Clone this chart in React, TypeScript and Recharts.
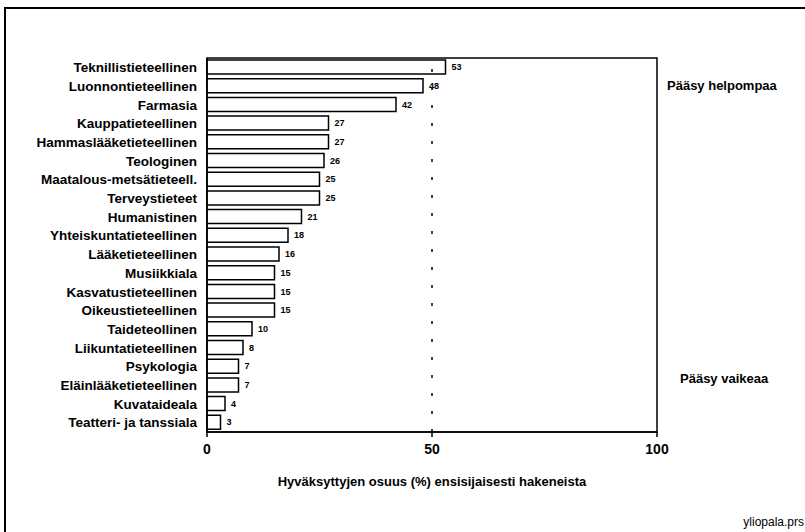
import { BarChart, Bar, XAxis, YAxis, ReferenceLine, ReferenceArea, LabelList } from 'recharts';

const categories = [
  'Teknillistieteellinen',
  'Luonnontieteellinen',
  'Farmasia',
  'Kauppatieteellinen',
  'Hammaslääketieteellinen',
  'Teologinen',
  'Maatalous-metsätieteell.',
  'Terveystieteet',
  'Humanistinen',
  'Yhteiskuntatieteellinen',
  'Lääketieteellinen',
  'Musiikkiala',
  'Kasvatustieteellinen',
  'Oikeustieteellinen',
  'Taideteollinen',
  'Liikuntatieteellinen',
  'Psykologia',
  'Eläinlääketieteellinen',
  'Kuvataideala',
  'Teatteri- ja tanssiala',
];

const osuus = [53, 48, 42, 27, 27, 26, 25, 25, 21, 18, 16, 15, 15, 15, 10, 8, 7, 7, 4, 3];

const xTicks = [0, 50, 100];

const data = categories.map((name, i) => ({ name, value: osuus[i] }));

const font = '"Liberation Sans Narrow", "Arial Narrow", "Liberation Sans", Arial, sans-serif';

const App = () => {
  return (
    <div style={{ position: 'absolute', left: 0, top: 0, width: 805, height: 532, background: '#fff', fontFamily: font }}>
      {/* outer frame: top and left edge only */}
      <div style={{ position: 'absolute', left: 4, top: 7, width: 801, height: 525, borderTop: '2px solid #000', borderLeft: '2px solid #000' }} />
      <BarChart
        width={805}
        height={532}
        data={data}
        layout="vertical"
        margin={{ top: 58, right: 148, bottom: 70, left: 7 }}
        barSize={14}
      >
        <XAxis
          type="number"
          domain={[0, 100]}
          ticks={xTicks}
          tick={{ fill: '#000', fontSize: 14, fontWeight: 'bold', fontFamily: font }}
          tickSize={5}
          tickMargin={7}
          tickLine={{ stroke: '#000', strokeWidth: 1.5 }}
          axisLine={{ stroke: '#000', strokeWidth: 1.5 }}
          height={30}
        />
        <YAxis
          type="category"
          dataKey="name"
          width={200}
          interval={0}
          tick={{ fill: '#000', fontSize: 13.5, fontWeight: 'bold', fontFamily: font }}
          tickLine={false}
          axisLine={{ stroke: '#000', strokeWidth: 1.5 }}
          tickMargin={4}
        />
        <ReferenceArea x1={0} x2={100} fill="none" stroke="#000" strokeWidth={1.5} />
        <ReferenceLine x={50} stroke="#000" strokeWidth={1.5} strokeDasharray="3 15" />
        <Bar dataKey="value" fill="#fff" stroke="#000" strokeWidth={1.5} isAnimationActive={false}>
          <LabelList dataKey="value" position="right" offset={6} fill="#000" fontSize={9} fontWeight="bold" fontFamily={font} />
        </Bar>
      </BarChart>
      <div style={{ position: 'absolute', left: 667, top: 78, fontSize: 13, fontWeight: 'bold' }}>Pääsy helpompaa</div>
      <div style={{ position: 'absolute', left: 680, top: 371, fontSize: 13, fontWeight: 'bold' }}>Pääsy vaikeaa</div>
      <div style={{ position: 'absolute', left: 207, width: 450, top: 474, textAlign: 'center', fontSize: 13, fontWeight: 'bold' }}>
        Hyväksyttyjen osuus (%) ensisijaisesti hakeneista
      </div>
      <div style={{ position: 'absolute', right: 1, top: 515, fontSize: 12 }}>yliopala.prs</div>
    </div>
  );
};

export default App;
